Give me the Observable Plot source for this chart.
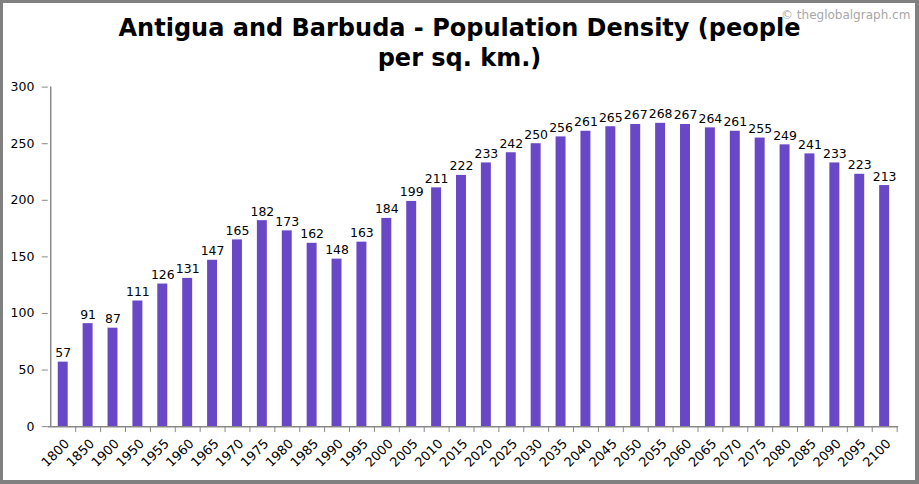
<!DOCTYPE html>
<html>
<head>
<meta charset="utf-8">
<script src="https://cdn.jsdelivr.net/npm/d3@7"></script>
<script src="https://cdn.jsdelivr.net/npm/@observablehq/plot@0.6"></script>
<style>
  html, body { margin: 0; padding: 0; background: #fff; }
  #wrap { position: relative; width: 919px; height: 484px; box-sizing: border-box;
          border-style: solid; border-color: #808080; border-width: 3px 4px 4px 3px; overflow: hidden; }
  #title { position: absolute; left: -3px; top: 10px; width: 919px; text-align: center;
           font-family: "DejaVu Sans", Verdana, sans-serif; font-weight: bold; font-size: 24px; line-height: 30px; color: #000; }
  #wm { position: absolute; left: 778px; top: 5px; font-family: "DejaVu Sans", Verdana, sans-serif;
        font-size: 12px; color: #a8a8a8; }
  #chart { position: absolute; left: -3px; top: -3px; }
</style>
</head>
<body>
<div id="wrap">
  <div id="chart"></div>
  <div id="title">Antigua and Barbuda - Population Density (people<br>per sq. km.)</div>
  <div id="wm">© theglobalgraph.cm</div>
</div>
<script>
const years = ["1800","1850","1900","1950","1955","1960","1965","1970","1975","1980","1985","1990","1995","2000","2005","2010","2015","2020","2025","2030","2035","2040","2045","2050","2055","2060","2065","2070","2075","2080","2085","2090","2095","2100"];
const density = [57,91,87,111,126,131,147,165,182,173,162,148,163,184,199,211,222,233,242,250,256,261,265,267,268,267,264,261,255,249,241,233,223,213];
const yTicks = [0,50,100,150,200,250,300];

const data = years.map((y, i) => ({year: y, value: density[i]}));

const W = 919, H = 484;
const mL = 48, mR = 17, mT = 87, mB = 56;
const step = (W - mL - mR) / years.length;

const chart = Plot.plot({
  width: W, height: H,
  marginLeft: mL, marginRight: mR, marginTop: mT, marginBottom: mB,
  style: {fontFamily: "DejaVu Sans, Verdana, sans-serif", fontSize: "12px", color: "#000", background: "transparent"},
  x: {type: "band", domain: years, paddingInner: 0.6, paddingOuter: 0.3, label: null},
  y: {domain: [0, 300], label: null},
  marks: [
    Plot.barY(data, {x: "year", y: "value", fill: "#6848c6"}),
    Plot.text(data, {x: "year", y: "value", text: d => String(d.value), lineAnchor: "bottom", dy: -5, fill: "#000", fontSize: 12.5}),
    Plot.ruleY([0], {stroke: "#888", strokeWidth: 1.5}),
    Plot.ruleX([years[0]], {dx: -step/2, stroke: "#888", strokeWidth: 1.5}),
    Plot.axisY({ticks: yTicks, tickSize: 6, tickPadding: 8, stroke: "#888", fontSize: 12.5, fill: "#000", label: null}),
    Plot.axisX({tickSize: 6, dx: step/2, text: null, stroke: "#888", label: null}),
    Plot.axisX({tickSize: 0, tickRotate: -45, tickPadding: 15, dx: 4, fontSize: 13, fill: "#000", label: null})
  ]
});
document.getElementById("chart").appendChild(chart);
</script>
</body>
</html>
